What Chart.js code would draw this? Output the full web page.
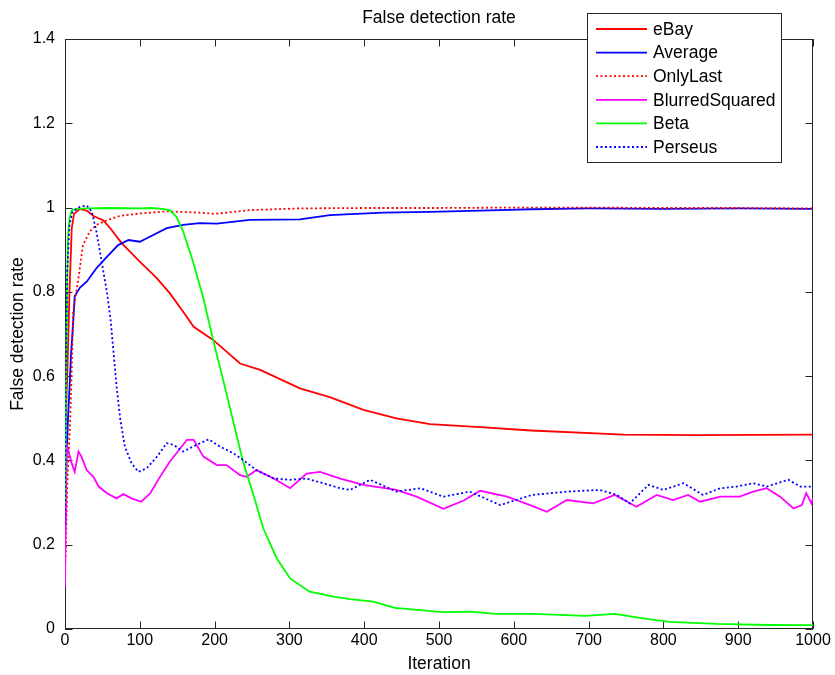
<!DOCTYPE html>
<html>
<head>
<meta charset="utf-8">
<script src="https://cdn.jsdelivr.net/npm/chart.js@4.4.1/dist/chart.umd.min.js"></script>
<style>
  html, body { margin: 0; padding: 0; background: #ffffff; }
  canvas { display: block; }
</style>
</head>
<body>
<canvas id="c" width="835" height="675"></canvas>
<script>
// ---- data ----
const chartTitle = "False detection rate";
const xAxisTitle = "Iteration";
const yAxisTitle = "False detection rate";
const xTicks = [0, 100, 200, 300, 400, 500, 600, 700, 800, 900, 1000];
const yTicks = [0, 0.2, 0.4, 0.6, 0.8, 1, 1.2, 1.4];
const seriesNames = ["eBay", "Average", "OnlyLast", "BlurredSquared", "Beta", "Perseus"];

const ebayIter = [0, 3, 6, 9, 12, 20, 30, 38, 51, 60, 76, 100, 123, 140, 158, 172, 198, 234, 261, 314, 354, 399, 443, 488, 555, 623, 747, 846, 1000];
const ebayRate = [0.45, 0.6, 0.8, 0.95, 0.985, 0.997, 0.992, 0.98, 0.97, 0.952, 0.915, 0.872, 0.832, 0.797, 0.753, 0.717, 0.686, 0.63, 0.615, 0.571, 0.55, 0.52, 0.50, 0.486, 0.479, 0.471, 0.461, 0.46, 0.461];

const averageIter = [0, 2, 4, 6, 8, 11, 13, 20, 29, 42, 56, 71, 85, 100, 118, 136, 158, 180, 203, 247, 314, 354, 425, 488, 581, 623, 700, 800, 900, 1000];
const averageRate = [0.2, 0.4, 0.5, 0.57, 0.65, 0.73, 0.79, 0.81, 0.824, 0.856, 0.883, 0.911, 0.923, 0.919, 0.935, 0.951, 0.959, 0.963, 0.962, 0.971, 0.972, 0.982, 0.988, 0.99, 0.994, 0.996, 0.998, 0.997, 0.998, 0.997];

const onlyLastIter = [0, 1, 3, 7, 9, 11, 18, 24, 33, 42, 56, 73, 100, 136, 180, 200, 247, 314, 400, 500, 600, 700, 800, 900, 1000];
const onlyLastRate = [0.15, 0.18, 0.34, 0.5, 0.615, 0.753, 0.832, 0.911, 0.943, 0.959, 0.97, 0.98, 0.986, 0.991, 0.988, 0.985, 0.994, 0.998, 0.999, 0.999, 1.0, 1.0, 0.999, 0.999, 0.998];

const blurredIter = [0, 2, 5, 9, 13, 18, 22, 29, 38, 45, 56, 69, 78, 89, 102, 114, 127, 140, 149, 163, 172, 185, 203, 216, 234, 243, 256, 279, 301, 323, 341, 368, 399, 443, 470, 506, 533, 555, 591, 622, 644, 671, 706, 735, 764, 791, 813, 833, 849, 876, 902, 920, 938, 956, 974, 985, 991, 998, 1000];
const blurredRate = [0.1, 0.44, 0.42, 0.393, 0.373, 0.421, 0.409, 0.377, 0.361, 0.338, 0.322, 0.31, 0.32, 0.31, 0.302, 0.322, 0.361, 0.397, 0.417, 0.449, 0.449, 0.409, 0.389, 0.389, 0.365, 0.361, 0.377, 0.357, 0.334, 0.369, 0.373, 0.357, 0.342, 0.33, 0.314, 0.285, 0.305, 0.328, 0.314, 0.294, 0.278, 0.306, 0.298, 0.318, 0.29, 0.318, 0.306, 0.318, 0.302, 0.314, 0.314, 0.326, 0.334, 0.314, 0.286, 0.294, 0.322, 0.298, 0.31];

const betaIter = [0, 2, 4, 6, 9, 15, 30, 60, 100, 114, 130, 140, 149, 158, 171, 185, 198, 212, 225, 238, 252, 265, 283, 301, 327, 359, 381, 412, 441, 505, 542, 576, 626, 696, 735, 773, 808, 872, 940, 1000];
const betaRate = [0.3, 0.7, 0.93, 0.975, 0.993, 0.997, 0.998, 0.999, 0.998, 0.999, 0.997, 0.994, 0.978, 0.943, 0.872, 0.785, 0.686, 0.587, 0.492, 0.397, 0.318, 0.239, 0.168, 0.12, 0.0885, 0.077, 0.071, 0.065, 0.05, 0.04, 0.041, 0.036, 0.036, 0.031, 0.036, 0.025, 0.017, 0.012, 0.0095, 0.009];

const perseusIter = [0, 1, 3, 6, 10, 20, 29, 36, 42, 49, 56, 61, 65, 69, 74, 80, 89, 98, 109, 123, 136, 145, 158, 176, 192, 207, 225, 238, 256, 279, 301, 323, 345, 368, 381, 408, 443, 475, 506, 541, 582, 624, 671, 715, 738, 755, 780, 800, 827, 853, 876, 898, 920, 938, 967, 983, 1000];
const perseusRate = [0.25, 0.6, 0.85, 0.96, 0.99, 1.002, 1.005, 0.99, 0.943, 0.872, 0.8, 0.733, 0.654, 0.575, 0.496, 0.433, 0.393, 0.373, 0.381, 0.409, 0.441, 0.437, 0.421, 0.437, 0.45, 0.433, 0.417, 0.401, 0.377, 0.357, 0.354, 0.357, 0.346, 0.334, 0.33, 0.354, 0.326, 0.334, 0.314, 0.326, 0.294, 0.318, 0.326, 0.33, 0.318, 0.298, 0.342, 0.33, 0.346, 0.318, 0.334, 0.338, 0.346, 0.338, 0.354, 0.338, 0.338];

// ---- build datasets ----
function pts(xs, ys) { return xs.map((x, i) => ({ x: x, y: ys[i] })); }
const FONT = '"Liberation Sans", Arial, Helvetica, sans-serif';
const TEXT_SIZE = 17.5;
const TICK_SIZE = 16;
const LINE_W = 1.8;
const DOT = [2, 2.5];
const seriesStyle = [
  { color: '#ff0000', dash: [] },
  { color: '#0000ff', dash: [] },
  { color: '#ff0000', dash: DOT },
  { color: '#ff00ff', dash: [] },
  { color: '#00ff00', dash: [] },
  { color: '#0000ff', dash: DOT }
];
const seriesData = [
  pts(ebayIter, ebayRate),
  pts(averageIter, averageRate),
  pts(onlyLastIter, onlyLastRate),
  pts(blurredIter, blurredRate),
  pts(betaIter, betaRate),
  pts(perseusIter, perseusRate)
];
const datasets = seriesNames.map((name, i) => ({
  label: name,
  data: seriesData[i],
  borderColor: seriesStyle[i].color,
  backgroundColor: seriesStyle[i].color,
  borderDash: seriesStyle[i].dash,
  borderWidth: LINE_W,
  pointRadius: 0,
  pointHoverRadius: 0,
  tension: 0,
  fill: false,
  order: seriesNames.length - i
}));

const AXIS_COLOR = '#262626';
const TICK_LEN = 7.5;

const matlabFrame = {
  id: 'matlabFrame',
  beforeDatasetsDraw(chart) {
    const { ctx, chartArea: a, scales } = chart;
    const x = scales.x, y = scales.y;
    ctx.save();
    ctx.strokeStyle = AXIS_COLOR;
    ctx.lineWidth = 1;
    ctx.beginPath();
    x.ticks.forEach(t => {
      const px = Math.round(x.getPixelForValue(t.value)) + 0.5;
      ctx.moveTo(px, a.bottom); ctx.lineTo(px, a.bottom - TICK_LEN);
      ctx.moveTo(px, a.top); ctx.lineTo(px, a.top + TICK_LEN);
    });
    y.ticks.forEach(t => {
      const py = Math.round(y.getPixelForValue(t.value)) + 0.5;
      ctx.moveTo(a.left, py); ctx.lineTo(a.left + TICK_LEN, py);
      ctx.moveTo(a.right, py); ctx.lineTo(a.right - TICK_LEN, py);
    });
    ctx.stroke();
    ctx.beginPath();
    ctx.rect(Math.round(a.left) + 0.5, Math.round(a.top) + 0.5,
             Math.round(a.right - a.left) - 1, Math.round(a.bottom - a.top) - 1);
    ctx.stroke();
    ctx.restore();
  },
  afterDraw(chart) {
    const { ctx, chartArea: a } = chart;
    ctx.save();
    // title centred over the axes
    ctx.fillStyle = '#000000';
    ctx.font = TEXT_SIZE + 'px ' + FONT;
    ctx.textAlign = 'center';
    ctx.textBaseline = 'middle';
    ctx.fillText(chartTitle, (a.left + a.right) / 2, 18);
    // legend box
    const bx = 587, by = 13, bw = 194, bh = 149;
    ctx.fillStyle = '#ffffff';
    ctx.fillRect(bx, by, bw, bh);
    ctx.strokeStyle = AXIS_COLOR;
    ctx.lineWidth = 1;
    ctx.strokeRect(bx + 0.5, by + 0.5, bw, bh);
    chart.data.datasets.forEach((ds, i) => {
      const cy = 29 + i * 23.6;
      ctx.save();
      ctx.strokeStyle = ds.borderColor;
      ctx.lineWidth = LINE_W;
      ctx.setLineDash(ds.borderDash || []);
      ctx.beginPath();
      ctx.moveTo(596, cy); ctx.lineTo(647, cy);
      ctx.stroke();
      ctx.restore();
      ctx.fillStyle = '#000000';
      ctx.textAlign = 'left';
      ctx.textBaseline = 'middle';
      ctx.font = TEXT_SIZE + 'px ' + FONT;
      ctx.fillText(ds.label, 653, cy + 1);
    });
    ctx.restore();
  }
};

new Chart(document.getElementById('c'), {
  type: 'line',
  data: { datasets: datasets },
  plugins: [matlabFrame],
  options: {
    responsive: false,
    animation: false,
    events: [],
    layout: { padding: { left: 0, right: 22, top: 39, bottom: 0 } },
    plugins: {
      legend: { display: false },
      title: { display: false },
      tooltip: { enabled: false }
    },
    scales: {
      x: {
        type: 'linear',
        min: 0, max: 1000,
        afterBuildTicks: s => { s.ticks = xTicks.map(v => ({ value: v })); },
        afterFit: s => { s.height = 46; },
        grid: { display: false, drawTicks: false },
        border: { display: false },
        ticks: {
          padding: 2,
          color: '#000000',
          font: { family: FONT, size: TICK_SIZE },
          maxRotation: 0,
          autoSkip: false,
          callback: v => String(v)
        },
        title: {
          display: true, text: xAxisTitle, color: '#000000',
          font: { family: FONT, size: TEXT_SIZE },
          padding: { top: 0, bottom: 0 }
        }
      },
      y: {
        type: 'linear',
        min: 0, max: 1.4,
        afterBuildTicks: s => { s.ticks = yTicks.map(v => ({ value: v })); },
        afterFit: s => { s.width = 65; },
        grid: { display: false, drawTicks: false },
        border: { display: false },
        ticks: {
          padding: 10,
          color: '#000000',
          font: { family: FONT, size: TICK_SIZE },
          autoSkip: false,
          callback: v => String(Math.round(v * 10) / 10)
        },
        title: {
          display: true, text: yAxisTitle, color: '#000000',
          font: { family: FONT, size: TEXT_SIZE },
          padding: { top: 8, bottom: 0 }
        }
      }
    }
  }
});
</script>
</body>
</html>
